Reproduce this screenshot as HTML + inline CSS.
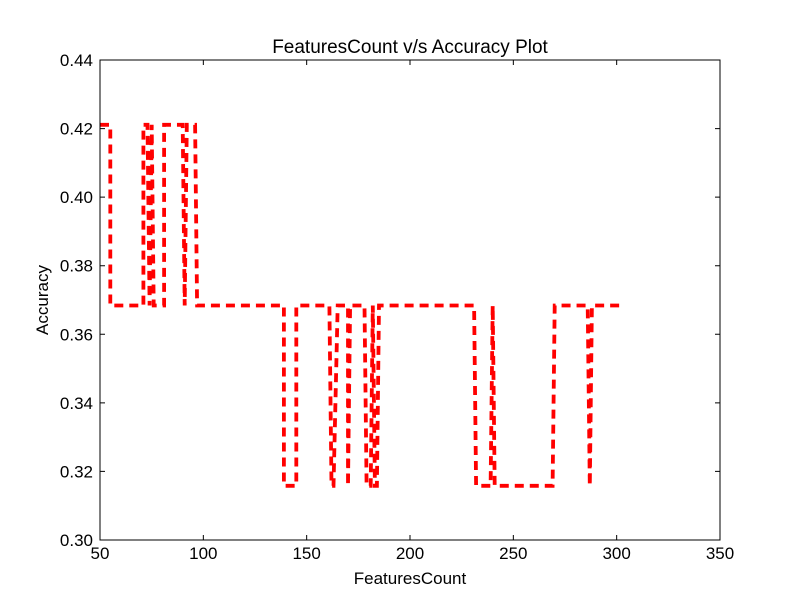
<!DOCTYPE html>
<html><head><meta charset="utf-8"><style>body{margin:0;background:#fff}svg{display:block;font-family:"Liberation Sans","DejaVu Sans",sans-serif}</style></head>
<body>
<svg id="chart" width="800" height="600" viewBox="0 0 800 600">
<rect x="0" y="0" width="800" height="600" fill="#fff"/>
<text x="410" y="53" font-size="19" text-anchor="middle">FeaturesCount v/s Accuracy Plot</text>
<g id="plot"></g>
<rect x="100" y="60" width="620" height="480" fill="none" stroke="#000" stroke-width="1"/>
<g id="axes"></g>
<text x="410" y="584" font-size="17" text-anchor="middle">FeaturesCount</text>
<text x="48" y="300" font-size="17" text-anchor="middle" transform="rotate(-90 48 300)">Accuracy</text>
</svg>
<script>
const featureCounts=[50,55,55,71,71,73,74,75,76,81,81,90,91,92,96,97,139,139,142,145,145,161,162,163,165,170,170,171,178,179,181,182,183,184,185,231,232,239,240,241,269,270,286,287,288,304];
const accuracies=[0.4211,0.4211,0.3684,0.3684,0.4211,0.4211,0.3684,0.4211,0.3684,0.3684,0.4211,0.4211,0.3684,0.4211,0.4211,0.3684,0.3684,0.3158,0.3158,0.3158,0.3684,0.3684,0.3158,0.3158,0.3684,0.3684,0.3158,0.3684,0.3684,0.3158,0.3158,0.3684,0.3158,0.3158,0.3684,0.3684,0.3158,0.3158,0.3684,0.3158,0.3158,0.3684,0.3684,0.3158,0.3684,0.3684];
const xTicks=[50,100,150,200,250,300,350];
const yTicks=[0.30,0.32,0.34,0.36,0.38,0.40,0.42,0.44];
const NS='http://www.w3.org/2000/svg';
function xs(v){return 100+(v-50)/300*620;}
function ys(v){return 540-(v-0.30)/0.14*480;}
const plot=document.getElementById('plot');
const axes=document.getElementById('axes');
let d='';
for(let i=0;i<featureCounts.length;i++){d+=(i?'L':'M')+xs(featureCounts[i]).toFixed(1)+','+ys(accuracies[i]).toFixed(1);}
const p=document.createElementNS(NS,'path');


p.setAttribute('d',d);p.setAttribute('fill','none');p.setAttribute('stroke','#ff0000');p.setAttribute('stroke-width','3.8');p.setAttribute('stroke-dasharray','9,6');
plot.appendChild(p);
xTicks.forEach(t=>{const x=xs(t);
const l=document.createElementNS(NS,'path');


l.setAttribute('d',`M${x},540v-5M${x},60v5`);l.setAttribute('stroke','#000');axes.appendChild(l);
const tx=document.createElementNS(NS,'text');


tx.setAttribute('x',x);tx.setAttribute('y',559);tx.setAttribute('font-size','17');tx.setAttribute('text-anchor','middle');tx.textContent=t;axes.appendChild(tx);});
yTicks.forEach(t=>{const y=ys(t);
const l=document.createElementNS(NS,'path');


l.setAttribute('d',`M100,${y}h5M720,${y}h-5`);l.setAttribute('stroke','#000');axes.appendChild(l);
const tx=document.createElementNS(NS,'text');


tx.setAttribute('x',93);tx.setAttribute('y',y+6);tx.setAttribute('font-size','17');tx.setAttribute('text-anchor','end');tx.textContent=t.toFixed(2);axes.appendChild(tx);});
</script>
</body></html>
